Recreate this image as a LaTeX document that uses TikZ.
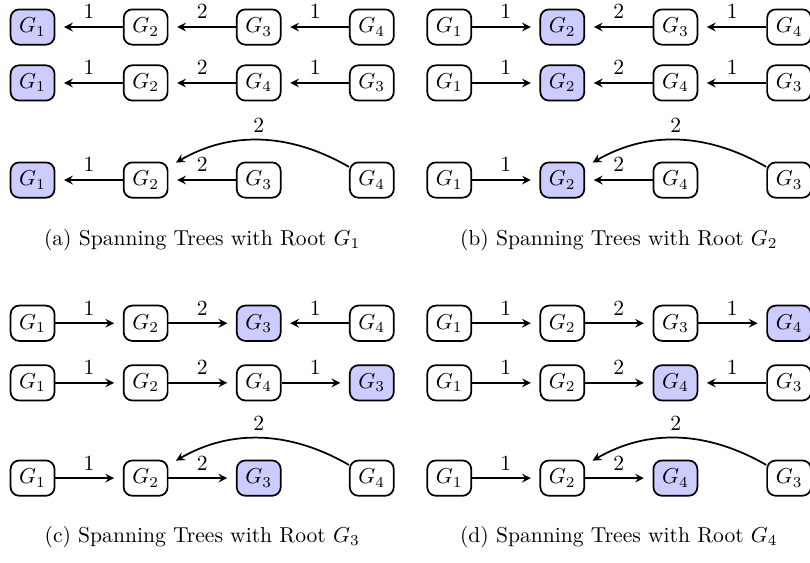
\documentclass[tikz,border=0pt]{standalone}
\begin{document}
\begin{tikzpicture}[>=stealth, thick, shorten >=4pt,
  gnode/.style={draw, rounded corners=4pt, inner sep=4pt},
  root/.style={gnode, fill=blue!20}]
\useasboundingbox (0,0) rectangle (13.18,9.16);

\node[root]  (a11) at (0.53,8.72) {$G_1$};
\node[gnode] (a12) at (2.37,8.72) {$G_2$};
\node[gnode] (a13) at (4.21,8.72) {$G_3$};
\node[gnode] (a14) at (6.05,8.72) {$G_4$};
\draw[->] (a12) -- node[above] {1} (a11);
\draw[->] (a13) -- node[above] {2} (a12);
\draw[->] (a14) -- node[above] {1} (a13);
\node[root]  (a21) at (0.53,7.81) {$G_1$};
\node[gnode] (a22) at (2.37,7.81) {$G_2$};
\node[gnode] (a23) at (4.21,7.81) {$G_4$};
\node[gnode] (a24) at (6.05,7.81) {$G_3$};
\draw[->] (a22) -- node[above] {1} (a21);
\draw[->] (a23) -- node[above] {2} (a22);
\draw[->] (a24) -- node[above] {1} (a23);
\node[root]  (a31) at (0.53,6.23) {$G_1$};
\node[gnode] (a32) at (2.37,6.23) {$G_2$};
\node[gnode] (a33) at (4.21,6.23) {$G_3$};
\node[gnode] (a34) at (6.05,6.23) {$G_4$};
\draw[->] (a32) -- node[above] {1} (a31);
\draw[->] (a33) -- node[above] {2} (a32);
\draw[->] (a34) to[bend right=30] node[above] {2} (a32);
\node (capa) at (3.29,5.26) {(a) Spanning Trees with Root $G_1$};

\node[gnode] (b11) at (7.31,8.72) {$G_1$};
\node[root]  (b12) at (9.15,8.72) {$G_2$};
\node[gnode] (b13) at (10.99,8.72) {$G_3$};
\node[gnode] (b14) at (12.84,8.72) {$G_4$};
\draw[->] (b11) -- node[above] {1} (b12);
\draw[->] (b13) -- node[above] {2} (b12);
\draw[->] (b14) -- node[above] {1} (b13);
\node[gnode] (b21) at (7.31,7.81) {$G_1$};
\node[root]  (b22) at (9.15,7.81) {$G_2$};
\node[gnode] (b23) at (10.99,7.81) {$G_4$};
\node[gnode] (b24) at (12.84,7.81) {$G_3$};
\draw[->] (b21) -- node[above] {1} (b22);
\draw[->] (b23) -- node[above] {2} (b22);
\draw[->] (b24) -- node[above] {1} (b23);
\node[gnode] (b31) at (7.31,6.23) {$G_1$};
\node[root]  (b32) at (9.15,6.23) {$G_2$};
\node[gnode] (b33) at (10.99,6.23) {$G_4$};
\node[gnode] (b34) at (12.84,6.23) {$G_3$};
\draw[->] (b31) -- node[above] {1} (b32);
\draw[->] (b33) -- node[above] {2} (b32);
\draw[->] (b34) to[bend right=30] node[above] {2} (b32);
\node (capb) at (10.07,5.26) {(b) Spanning Trees with Root $G_2$};

\node[gnode] (c11) at (0.53,3.90) {$G_1$};
\node[gnode] (c12) at (2.37,3.90) {$G_2$};
\node[root]  (c13) at (4.21,3.90) {$G_3$};
\node[gnode] (c14) at (6.05,3.90) {$G_4$};
\draw[->] (c11) -- node[above] {1} (c12);
\draw[->] (c12) -- node[above] {2} (c13);
\draw[->] (c14) -- node[above] {1} (c13);
\node[gnode] (c21) at (0.53,2.93) {$G_1$};
\node[gnode] (c22) at (2.37,2.93) {$G_2$};
\node[gnode] (c23) at (4.21,2.93) {$G_4$};
\node[root]  (c24) at (6.05,2.93) {$G_3$};
\draw[->] (c21) -- node[above] {1} (c22);
\draw[->] (c22) -- node[above] {2} (c23);
\draw[->] (c23) -- node[above] {1} (c24);
\node[gnode] (c31) at (0.53,1.38) {$G_1$};
\node[gnode] (c32) at (2.37,1.38) {$G_2$};
\node[root]  (c33) at (4.21,1.38) {$G_3$};
\node[gnode] (c34) at (6.05,1.38) {$G_4$};
\draw[->] (c31) -- node[above] {1} (c32);
\draw[->] (c32) -- node[above] {2} (c33);
\draw[->] (c34) to[bend right=30] node[above] {2} (c32);
\node (capc) at (3.29,0.42) {(c) Spanning Trees with Root $G_3$};

\node[gnode] (d11) at (7.31,3.90) {$G_1$};
\node[gnode] (d12) at (9.15,3.90) {$G_2$};
\node[gnode] (d13) at (10.99,3.90) {$G_3$};
\node[root]  (d14) at (12.84,3.90) {$G_4$};
\draw[->] (d11) -- node[above] {1} (d12);
\draw[->] (d12) -- node[above] {2} (d13);
\draw[->] (d13) -- node[above] {1} (d14);
\node[gnode] (d21) at (7.31,2.93) {$G_1$};
\node[gnode] (d22) at (9.15,2.93) {$G_2$};
\node[root]  (d23) at (10.99,2.93) {$G_4$};
\node[gnode] (d24) at (12.84,2.93) {$G_3$};
\draw[->] (d21) -- node[above] {1} (d22);
\draw[->] (d22) -- node[above] {2} (d23);
\draw[->] (d24) -- node[above] {1} (d23);
\node[gnode] (d31) at (7.31,1.38) {$G_1$};
\node[gnode] (d32) at (9.15,1.38) {$G_2$};
\node[root]  (d33) at (10.99,1.38) {$G_4$};
\node[gnode] (d34) at (12.84,1.38) {$G_3$};
\draw[->] (d31) -- node[above] {1} (d32);
\draw[->] (d32) -- node[above] {2} (d33);
\draw[->] (d34) to[bend right=30] node[above] {2} (d32);
\node (capd) at (10.07,0.42) {(d) Spanning Trees with Root $G_4$};
\end{tikzpicture}
\end{document}
